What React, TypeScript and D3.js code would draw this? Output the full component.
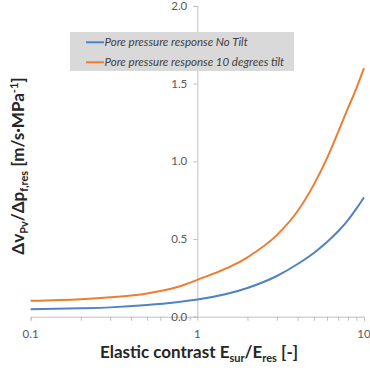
import React, { useRef, useEffect } from 'react';
import * as d3 from 'd3';

// Elastic contrast values (x, log scale)
const contrast = [0.1, 0.2, 0.3, 0.5, 0.75, 1, 2, 3, 4, 5, 6, 7, 8, 9, 10];
// Pore pressure response, no tilt
const noTilt = [0.048, 0.054, 0.06, 0.075, 0.093, 0.11, 0.185, 0.262, 0.339, 0.41, 0.48, 0.55, 0.62, 0.695, 0.768];
// Pore pressure response, 10 degrees tilt
const tilt10 = [0.103, 0.113, 0.125, 0.15, 0.189, 0.237, 0.382, 0.525, 0.68, 0.85, 1.02, 1.19, 1.34, 1.47, 1.6];

const seriesNames = ['Pore pressure response No Tilt', 'Pore pressure response 10 degrees tilt'];
const seriesColors = ['#4e83c4', '#ed7d31'];
const yTicks = [0, 0.5, 1.0, 1.5, 2.0];
const xLabelTicks = [0.1, 1, 10];

function Chart() {
  const svgRef = useRef<SVGSVGElement>(null);

  useEffect(() => {
    const svg = d3.select(svgRef.current);
    svg.selectAll('*').remove();

    const font = 'Lato, "Liberation Sans", sans-serif';
    const axisColor = '#bfbfbf';
    const labelColor = '#595959';

    const x = d3.scaleLog().domain([0.1, 10]).range([30.6, 364]);
    const y = d3.scaleLinear().domain([0, 2]).range([316.7, 5.9]);

    // X axis (log, with minor ticks)
    const xAxis = svg.append('g')
      .attr('transform', `translate(0,${y(0)})`)
      .call(d3.axisBottom(x).tickValues(x.ticks()).tickSize(4).tickFormat(() => ''));
    xAxis.select('.domain').attr('stroke', axisColor);
    xAxis.selectAll('.tick line').attr('stroke', axisColor);

    svg.append('g')
      .selectAll('text')
      .data(xLabelTicks)
      .enter().append('text')
      .attr('x', d => x(d))
      .attr('y', y(0) + 21)
      .attr('text-anchor', 'middle')
      .style('font-family', font)
      .style('font-size', '11.5px')
      .attr('fill', labelColor)
      .text(d => String(d));

    // Y axis crossing at x = 1
    const yAxis = svg.append('g')
      .attr('transform', `translate(${x(1)},0)`)
      .call(d3.axisLeft(y).tickValues(yTicks).tickSize(4).tickPadding(6).tickFormat(d => (+d).toFixed(1)));
    yAxis.select('.domain').attr('stroke', axisColor);
    yAxis.selectAll('.tick line').attr('stroke', axisColor);
    yAxis.selectAll('.tick text')
      .attr('fill', labelColor)
      .style('font-family', font)
      .style('font-size', '11.5px');

    // Lines
    const line = d3.line<number>()
      .x((_, i) => x(contrast[i]))
      .y(d => y(d))
      .curve(d3.curveMonotoneX);

    [noTilt, tilt10].forEach((values, i) => {
      svg.append('path')
        .datum(values)
        .attr('fill', 'none')
        .attr('stroke', seriesColors[i])
        .attr('stroke-width', 2)
        .attr('d', line);
    });

    // Legend
    const legend = svg.append('g');
    legend.append('rect')
      .attr('x', 70)
      .attr('y', 32)
      .attr('width', 224)
      .attr('height', 39)
      .attr('fill', '#d9d9d9');

    seriesNames.forEach((name, i) => {
      const ly = 42.3 + i * 20;
      legend.append('line')
        .attr('x1', 86).attr('x2', 104)
        .attr('y1', ly).attr('y2', ly)
        .attr('stroke', seriesColors[i])
        .attr('stroke-width', 2);
      legend.append('text')
        .attr('x', 104.5)
        .attr('y', ly + 4)
        .style('font-family', font)
        .style('font-size', '11.5px')
        .style('font-style', 'italic')
        .attr('fill', '#404040')
        .text(name);
    });

    // X axis title
    const xt = svg.append('text')
      .attr('x', 199)
      .attr('y', 358)
      .attr('text-anchor', 'middle')
      .style('font-family', font)
      .style('font-size', '17px')
      .style('font-weight', 'bold')
      .attr('fill', '#262626');
    xt.append('tspan').text('Elastic contrast E');
    xt.append('tspan').attr('dy', 4).style('font-size', '11px').text('sur');
    xt.append('tspan').attr('dy', -4).text('/E');
    xt.append('tspan').attr('dy', 4).style('font-size', '11px').text('res');
    xt.append('tspan').attr('dy', -4).text(' [-]');

    // Y axis title
    const yt = svg.append('text')
      .attr('transform', 'translate(24,166) rotate(-90)')
      .attr('text-anchor', 'middle')
      .style('font-family', font)
      .style('font-size', '17px')
      .style('font-weight', 'bold')
      .attr('fill', '#262626');
    yt.append('tspan').text('\u0394v');
    yt.append('tspan').attr('dy', 4).style('font-size', '11px').text('Pv');
    yt.append('tspan').attr('dy', -4).text('/\u0394p');
    yt.append('tspan').attr('dy', 4).style('font-size', '11px').text('f,res');
    yt.append('tspan').attr('dy', -4).text(' [m/s\u00b7MPa');
    yt.append('tspan').attr('dy', -6).style('font-size', '11px').text('-1');
    yt.append('tspan').attr('dy', 6).text(']');
  }, []);

  return (
    <svg
      ref={svgRef}
      width={370}
      height={370}
      style={{ position: 'absolute', left: 0, top: 0, background: '#ffffff' }}
    />
  );
}

export default function App() {
  return <Chart />;
}
